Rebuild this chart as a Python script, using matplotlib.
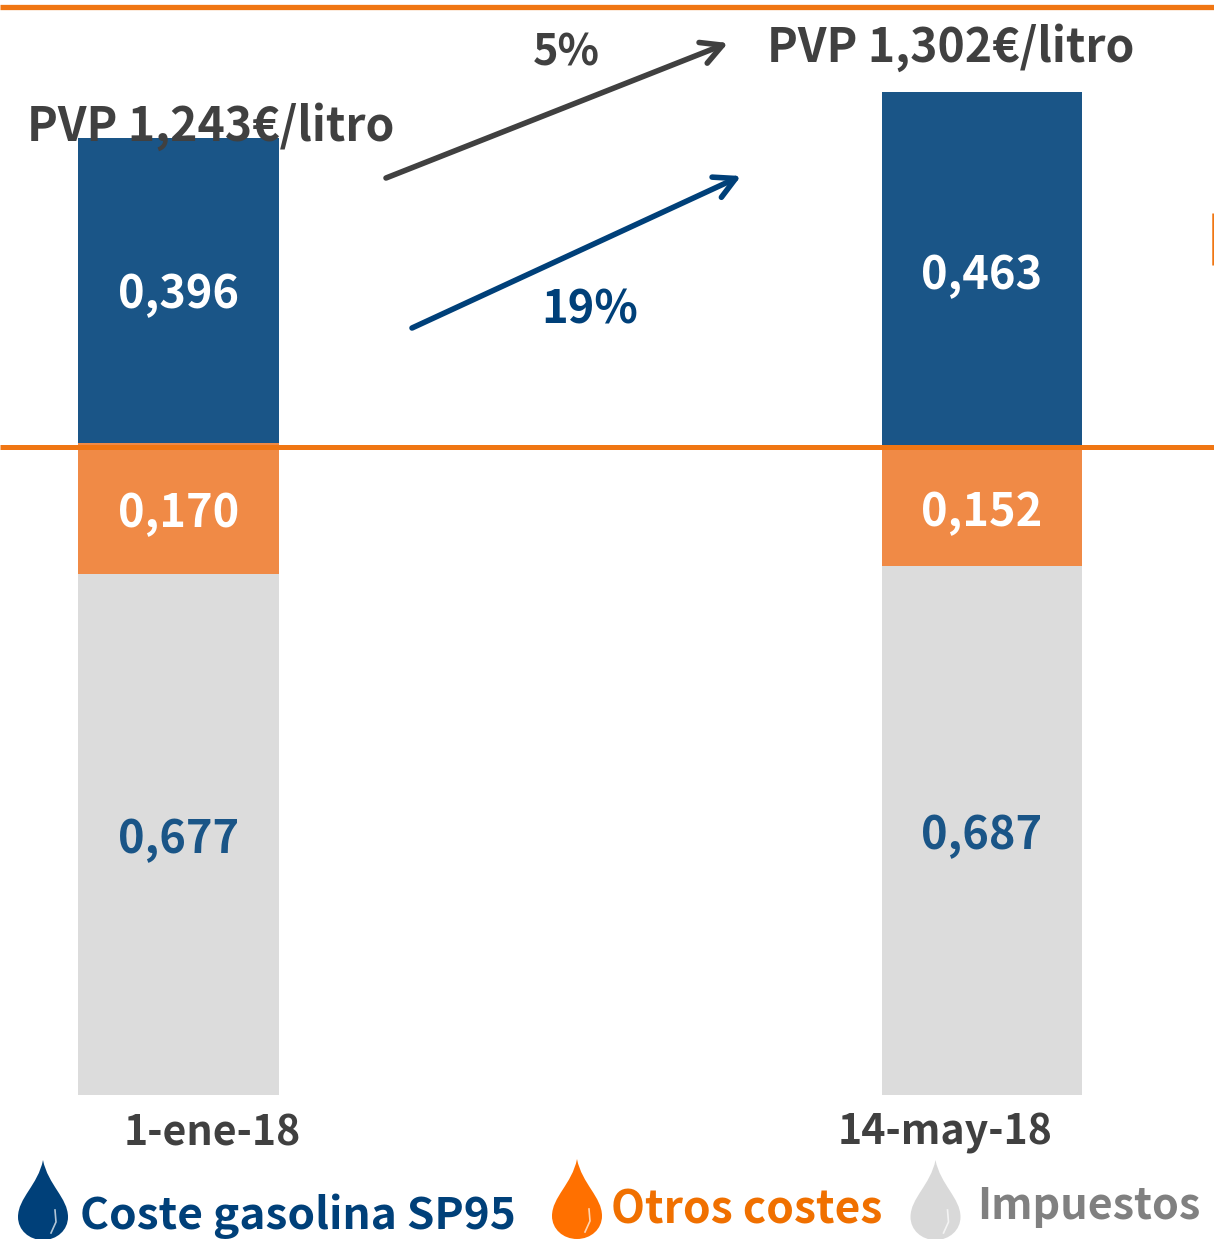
import matplotlib
matplotlib.use("Agg")
import matplotlib.pyplot as plt
from matplotlib.path import Path
from matplotlib.patches import PathPatch, FancyArrowPatch
from matplotlib.transforms import Affine2D, blended_transform_factory

# data
fechas = ["1-ene-18", "14-may-18"]
impuestos = [0.677, 0.687]
otros_costes = [0.170, 0.152]
coste_gasolina = [0.396, 0.463]
pvp = [1.243, 1.302]
variaciones = ["5%", "19%"]
leyenda = ["Coste gasolina SP95", "Otros costes", "Impuestos"]

W, H = 1214, 1239
AZUL_BAR = "#1A5587"
NARANJA_BAR = "#F08A46"
GRIS_BAR = "#DCDCDC"
NARANJA = "#F07613"
AZUL = "#004079"
GRIS_TXT = "#404040"

plt.rcParams["font.family"] = ["Noto Sans CJK SC", "DejaVu Sans"]
plt.rcParams["font.weight"] = "bold"

def coma(v, dec=3):
    return f"{v:.{dec}f}".replace(".", ",")

fig = plt.figure(figsize=(W / 100, H / 100), dpi=100)
ax = fig.add_axes([0, 0, 1, 1])
# escala: baseline en y=1095 px, 770 px por euro; barras separadas 803.5 px
ax.set_xlim(-178.5 / 803.5, (W - 178.5) / 803.5)
ax.set_ylim(-(H - 1095) / 770, 1095 / 770)
ax.axis("off")

# pixeles de la referencia -> figura
px = Affine2D().scale(1 / W, -1 / H).translate(0, 1) + fig.transFigure
x_datos = blended_transform_factory(ax.transData, px)

pos = range(len(fechas))
base2 = [a + b for a, b in zip(impuestos, otros_costes)]
ax.bar(pos, impuestos, width=0.25, color=GRIS_BAR)
ax.bar(pos, otros_costes, width=0.25, bottom=impuestos, color=NARANJA_BAR)
ax.bar(pos, coste_gasolina, width=0.25, bottom=base2, color=AZUL_BAR)

# lineas naranjas
ax.plot([0, W], [7, 7], color=NARANJA, lw=3.8, transform=px, solid_capstyle="butt")
ax.plot([0, W], [447, 447], color=NARANJA, lw=3.6, transform=px, solid_capstyle="butt")
ax.plot([1213, 1213], [213, 265], color=NARANJA, lw=1.8, transform=px, solid_capstyle="butt")

FS = 32.5

# valores dentro de las barras
for i, lineas in zip(pos, [(853, 527, 308), (849, 526, 289)]):
    ax.text(i, lineas[0], coma(impuestos[i]), transform=x_datos, ha="center", va="baseline", fontsize=FS, color=AZUL_BAR)
    ax.text(i, lineas[1], coma(otros_costes[i]), transform=x_datos, ha="center", va="baseline", fontsize=FS, color="white")
    ax.text(i, lineas[2], coma(coste_gasolina[i]), transform=x_datos, ha="center", va="baseline", fontsize=FS, color="white")

# PVP
ax.text(27, 141, f"PVP {coma(pvp[0])}€/litro", transform=px, fontsize=33.3, color=GRIS_TXT, va="baseline")
ax.text(767, 62, f"PVP {coma(pvp[1])}€/litro", transform=px, fontsize=33.3, color=GRIS_TXT, va="baseline")

# variaciones
ax.text(533, 66, variaciones[0], transform=px, fontsize=31, color=GRIS_TXT, va="baseline")
ax.text(541, 324, variaciones[1], transform=px, fontsize=32.5, color=AZUL, va="baseline")

# flechas
for p0, p1, col in [((386, 178), (728, 43), GRIS_TXT), ((412, 328), (741, 176), AZUL)]:
    ax.add_patch(FancyArrowPatch(p0, p1, transform=px, arrowstyle="->,head_length=15,head_width=8",
                                 color=col, lw=4, shrinkA=0, shrinkB=0, mutation_scale=1))

# fechas
for c, s in zip([212, 945], fechas):
    ax.text(c, 1145, s, transform=px, ha="center", va="baseline", fontsize=29.6, color=GRIS_TXT)

# gotas de la leyenda
def gota(cx, top, col):
    verts = [(cx, top), (cx + 5, top + 25), (cx + 25, top + 38), (cx + 25, top + 57),
             (cx + 25, top + 70), (cx + 14, top + 80), (cx, top + 80),
             (cx - 14, top + 80), (cx - 25, top + 70), (cx - 25, top + 57),
             (cx - 25, top + 38), (cx - 5, top + 25), (cx, top), (cx, top)]
    codes = [Path.MOVETO] + [Path.CURVE4] * 12 + [Path.CLOSEPOLY]
    ax.add_patch(PathPatch(Path(verts, codes), facecolor=col, edgecolor="none", transform=px, clip_on=False))
    # brillo
    ax.plot([cx + 12, cx + 13, cx + 8], [top + 50, top + 62, top + 73], color="white", lw=1.2, alpha=0.7, transform=px)

gota(43, 1160, AZUL)
gota(577, 1159, "#FF7000")
gota(935.5, 1160, "#D9D9D9")

ax.text(80, 1229, leyenda[0], transform=px, fontsize=31.8, color=AZUL, va="baseline")
ax.text(611, 1224, leyenda[1], transform=px, fontsize=31.9, color="#F07000", va="baseline")
ax.text(977, 1219, leyenda[2], transform=px, fontsize=31, color="#808080", va="baseline")

fig.savefig("out.png", dpi=100)
